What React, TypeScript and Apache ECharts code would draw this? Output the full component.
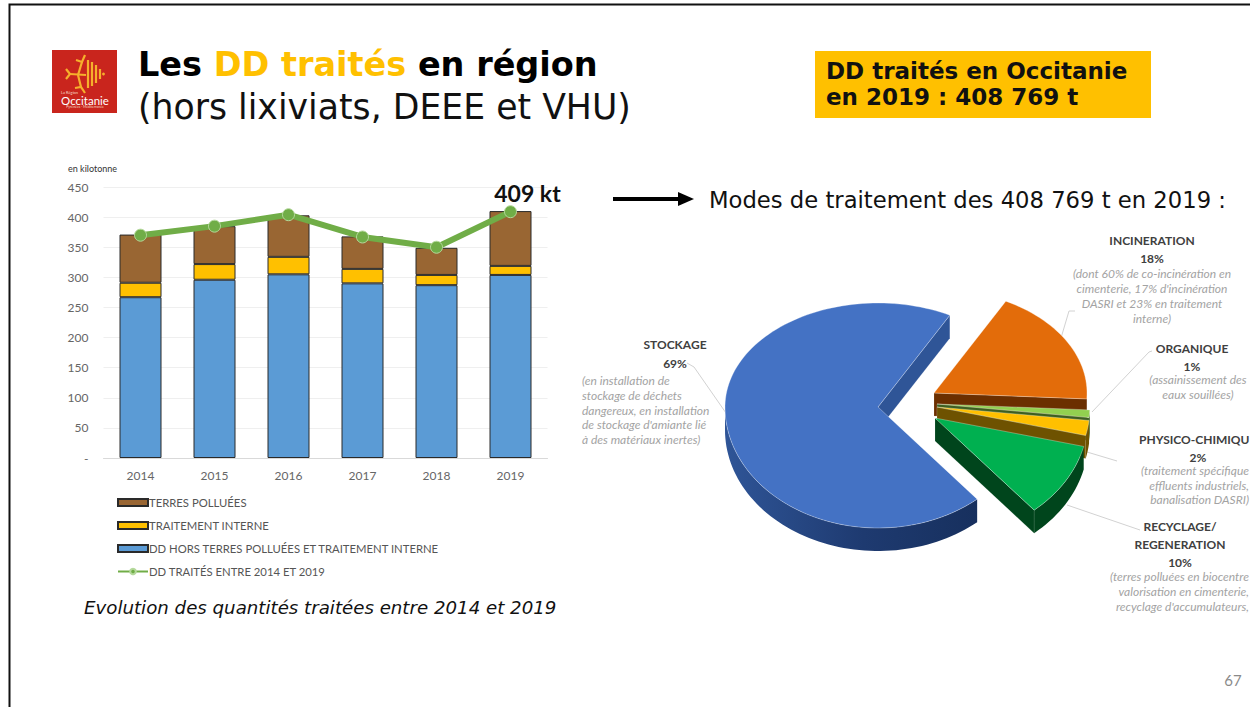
import React, { useEffect, useRef } from "react";
import * as echarts from "echarts";

const years = ["2014", "2015", "2016", "2017", "2018", "2019"];
const horsTerres = [267, 296, 305, 290, 287, 304];
const traitementInterne = [24, 26, 29, 24, 17, 15];
const terresPolluees = [80, 63, 69, 54, 45, 91];
const ddTraites = [370, 385, 404, 367, 350, 409];

const nameBrown = "TERRES POLLUÉES";
const nameYellow = "TRAITEMENT INTERNE";
const nameBlue = "DD HORS TERRES POLLUÉES ET TRAITEMENT INTERNE";
const nameLine = "DD TRAITÉS ENTRE 2014 ET 2019";

const pieNames = ["INCINERATION", "ORGANIQUE", "PHYSICO-CHIMIQUE", "RECYCLAGE/REGENERATION", "STOCKAGE"];
const pieShares = [18, 1, 2, 10, 69];

// 3D pie look (drawn by a custom series from pieShares)
const pieStyles = [
  { apex: [934, 393], top: "#e36c0a", side: "#6b2f00", end: "#6b2f00" },
  { apex: [937, 404], top: "#92d050", side: "#3d5f20", end: "#3d5f20" },
  { apex: [937, 407], top: "#ffc000", side: "#6e5200", end: "#6e5200" },
  { apex: [935, 418], top: "#00b050", side: "#00451c", end: "#00451c" },
  { apex: [878, 407], top: "#4472c4", side: "#27467f", end: "#2f5597" },
];
const RX = 153, RY_UP = 104, RY_DOWN = 121, DEPTH = 23, START_DEG = 28;

const FONT = "Lato";
const boldGrey = "#404040";
const italicGrey = "#a3a3a3";
type L = [string, number, number, "b" | "i", "center" | "left" | "right"];
const pieLabels: L[] = [
  ["INCINERATION", 1152, 240, "b", "center"],
  ["18%", 1152, 258, "b", "center"],
  ["(dont 60% de co-incinération en", 1152, 273, "i", "center"],
  ["cimenterie, 17% d'incinération", 1152, 288, "i", "center"],
  ["DASRI et 23% en traitement", 1152, 303, "i", "center"],
  ["interne)", 1152, 318, "i", "center"],
  ["ORGANIQUE", 1192, 348, "b", "center"],
  ["1%", 1192, 366, "b", "center"],
  ["(assainissement des", 1198, 379, "i", "center"],
  ["eaux souillées)", 1198, 394, "i", "center"],
  ["PHYSICO-CHIMIQU", 1139, 439, "b", "left"],
  ["2%", 1198, 457, "b", "center"],
  ["(traitement spécifique", 1249, 470, "i", "right"],
  ["effluents industriels,", 1249, 485, "i", "right"],
  ["banalisation DASRI)", 1249, 499, "i", "right"],
  ["RECYCLAGE/", 1180, 526, "b", "center"],
  ["REGENERATION", 1180, 544, "b", "center"],
  ["10%", 1180, 562, "b", "center"],
  ["(terres polluées en biocentre", 1249, 576, "i", "right"],
  ["valorisation en cimenterie,", 1249, 591, "i", "right"],
  ["recyclage d'accumulateurs,", 1249, 606, "i", "right"],
  ["STOCKAGE", 675, 344, "b", "center"],
  ["69%", 675, 363, "b", "center"],
  ["(en installation de", 582, 380, "i", "left"],
  ["stockage de déchets", 582, 395, "i", "left"],
  ["dangereux, en installation", 582, 410, "i", "left"],
  ["de stockage d'amiante lié", 582, 424, "i", "left"],
  ["à des matériaux inertes)", 582, 439, "i", "left"],
];
const leaders: number[][][] = [
  [[687, 363], [694, 367], [726, 413]],
  [[1075, 311], [1069, 311], [1061, 338]],
  [[1152, 351], [1149, 352], [1092, 412]],
  [[1117, 461], [1087, 452]],
  [[1140, 530], [1067, 505]],
];

const pt = (apex: number[], deg: number, dz = 0) => {
  const t = (deg * Math.PI) / 180;
  const c = Math.cos(t);
  return [apex[0] + RX * Math.sin(t), apex[1] - (c >= 0 ? RY_UP : RY_DOWN) * c + dz];
};
const arc = (apex: number[], a: number, b: number, dz = 0) => {
  const out: number[][] = [];
  const n = Math.max(2, Math.ceil((b - a) / 2));
  for (let i = 0; i <= n; i++) out.push(pt(apex, a + ((b - a) * i) / n, dz));
  return out;
};

function renderPie(params: any, api: any) {
  const i = params.dataIndex;
  const total = pieShares.reduce((s, v) => s + v, 0);
  const before = pieShares.slice(0, i).reduce((s, v) => s + v, 0);
  const a = START_DEG + (before / total) * 360;
  const b = a + (api.value(0) / total) * 360;
  const st = pieStyles[i];
  const children: any[] = [];
  // radial end wall
  const e = pt(st.apex, b);
  children.push({
    type: "polygon",
    shape: { points: [st.apex, e, [e[0], e[1] + DEPTH], [st.apex[0], st.apex[1] + DEPTH]] },
    style: { fill: st.end, stroke: "rgba(255,255,255,0.25)", lineWidth: 0.5 },
  });
  // outer wall, front part only
  const fa = Math.max(a, 90), fb = Math.min(b, 270);
  if (fb > fa) {
    const topArc = arc(st.apex, fa, fb);
    const botArc = arc(st.apex, fa, fb, DEPTH).reverse();
    children.push({
      type: "polygon",
      shape: { points: topArc.concat(botArc) },
      style: {
        fill:
          i === 4
            ? new echarts.graphic.LinearGradient(1, 0, 0, 0, [
                { offset: 0, color: "#17305e" },
                { offset: 0.45, color: "#1e3a70" },
                { offset: 1, color: "#2f5597" },
              ])
            : st.side,
      },
    });
  }
  // top face
  children.push({
    type: "polygon",
    shape: { points: [st.apex, ...arc(st.apex, a, b)] },
    style: { fill: st.top, stroke: "rgba(255,255,255,0.45)", lineWidth: 0.7 },
  });
  return { type: "group", children };
}

const crossStroke = { stroke: "#f6b02c", lineWidth: 2.2, fill: "none" };
const logo: any[] = [
  { type: "rect", shape: { x: 52, y: 50, width: 65, height: 63 }, style: { fill: "#c9251d" } },
  // simplified Occitan cross and stripes
  { type: "line", shape: { x1: 70, y1: 74, x2: 86, y2: 75 }, style: crossStroke },
  { type: "line", shape: { x1: 78, y1: 75, x2: 82, y2: 62 }, style: crossStroke },
  { type: "line", shape: { x1: 78, y1: 75, x2: 81, y2: 87 }, style: crossStroke },
  { type: "polyline", shape: { points: [[76, 60], [82, 62], [85, 55]] }, style: crossStroke },
  { type: "polyline", shape: { points: [[66, 69], [70, 74], [66, 79]] }, style: crossStroke },
  { type: "polyline", shape: { points: [[75, 88], [81, 87], [85, 93]] }, style: crossStroke },
  { type: "line", shape: { x1: 88, y1: 60, x2: 88, y2: 88 }, style: crossStroke },
  { type: "line", shape: { x1: 92, y1: 62, x2: 92, y2: 86 }, style: crossStroke },
  { type: "line", shape: { x1: 96, y1: 65, x2: 96, y2: 83 }, style: crossStroke },
  { type: "line", shape: { x1: 100, y1: 69, x2: 100, y2: 79 }, style: crossStroke },
  { type: "circle", shape: { cx: 103.5, cy: 74, r: 1.4 }, style: { fill: "#f6b02c" } },
  { type: "text", x: 61, y: 92, style: { text: "La Région", font: `4px ${FONT}`, fill: "#f6dcc8", align: "left", verticalAlign: "middle" } },
  { type: "text", x: 85, y: 100, style: { text: "Occitanie", font: `11.5px ${FONT}`, fill: "#ffffff", align: "center", verticalAlign: "middle" } },
  { type: "text", x: 85, y: 107, style: { text: "Pyrénées · Méditerranée", font: `3.5px ${FONT}`, fill: "#f6dcc8", align: "center", verticalAlign: "middle" } },
];

const DJ = "'DejaVu Sans'";
const graphics: any[] = [
  { type: "polyline", shape: { points: [[1250, 4.5], [9.5, 4.5], [9.5, 707]] }, style: { stroke: "#111", lineWidth: 2, fill: "none" } },
  ...logo,
  {
    type: "text", x: 138, y: 64,
    style: {
      text: "{a|Les }{b|DD traités}{a| en région}",
      align: "left", verticalAlign: "middle",
      rich: {
        a: { font: `bold 33.5px ${DJ}`, fill: "#000" },
        b: { font: `bold 33.5px ${DJ}`, fill: "#ffc000" },
      },
    },
  },
  { type: "text", x: 138, y: 107, style: { text: "(hors lixiviats, DEEE et VHU)", font: `34.7px ${DJ}`, fill: "#111", align: "left", verticalAlign: "middle" } },
  { type: "rect", shape: { x: 815, y: 51, width: 336, height: 67 }, style: { fill: "#ffc000" } },
  { type: "text", x: 826, y: 71, style: { text: "DD traités en Occitanie", font: `bold 23px ${DJ}`, fill: "#111", align: "left", verticalAlign: "middle" } },
  { type: "text", x: 826, y: 97, style: { text: "en 2019 : 408 769 t", font: `bold 23px ${DJ}`, fill: "#111", align: "left", verticalAlign: "middle" } },
  { type: "line", shape: { x1: 613, y1: 199, x2: 682, y2: 199 }, style: { stroke: "#000", lineWidth: 4 } },
  { type: "polygon", shape: { points: [[678, 192], [694, 199], [678, 206]] }, style: { fill: "#000" } },
  { type: "text", x: 709, y: 200, style: { text: "Modes de traitement des 408 769 t en 2019 :", font: `22.7px ${DJ}`, fill: "#111", align: "left", verticalAlign: "middle" } },
  { type: "text", x: 68, y: 168, style: { text: "en kilotonne", font: `9px ${FONT}`, fill: "#333", align: "left", verticalAlign: "middle" } },
  { type: "text", x: 84, y: 607, style: { text: "Evolution des quantités traitées entre 2014 et 2019", font: `italic 18.2px ${DJ}`, fill: "#111", align: "left", verticalAlign: "middle" } },
  { type: "text", x: 1233, y: 680, style: { text: "67", font: `15px ${FONT}`, fill: "#8a8a8a", align: "center", verticalAlign: "middle" } },
  ...leaders.map((points) => ({ type: "polyline", shape: { points }, style: { stroke: "#d2d2d2", lineWidth: 1, fill: "none" } })),
  ...pieLabels.map(([text, x, y, kind, align]) => ({
    type: "text", x, y,
    style: {
      text,
      font: kind === "b" ? `bold 12px ${FONT}` : `italic 12px ${FONT}`,
      fill: kind === "b" ? boldGrey : italicGrey,
      align, verticalAlign: "middle",
    },
  })),
];

const barStyle = (color: string) => ({ color, borderColor: "#2a2a2a", borderWidth: 1 });

export default function App() {
  const ref = useRef<HTMLDivElement>(null);
  useEffect(() => {
    document.body.style.margin = "0";
    const chart = echarts.init(ref.current!, null, { renderer: "svg" });
    chart.setOption({
      animation: false,
      backgroundColor: "#ffffff",
      grid: { left: 103.5, top: 187, width: 444, height: 271 },
      legend: {
        orient: "vertical", left: 117, top: 497, padding: 0, itemWidth: 30, itemHeight: 7, itemGap: 12,
        data: [
          { name: nameBrown, icon: "rect" },
          { name: nameYellow, icon: "rect" },
          { name: nameBlue, icon: "rect" },
          { name: nameLine },
        ],
        textStyle: { fontFamily: FONT, fontSize: 11.3, color: "#555", padding: [0, 0, 0, -4] },
      },
      xAxis: {
        type: "category", data: years,
        axisLine: { lineStyle: { color: "#d9d9d9" } }, axisTick: { show: false },
        axisLabel: { fontFamily: FONT, fontSize: 12, color: "#666", margin: 11 },
      },
      yAxis: {
        type: "value", min: 0, max: 450, interval: 50,
        axisLine: { show: false }, axisTick: { show: false },
        splitLine: { lineStyle: { color: "#efefef" } },
        axisLabel: { fontFamily: FONT, fontSize: 12, color: "#666", margin: 15, formatter: (v: number) => (v === 0 ? "-" : String(v)) },
      },
      graphic: graphics,
      series: [
        { name: nameBlue, type: "bar", stack: "a", barWidth: 42, data: horsTerres, itemStyle: barStyle("#5b9bd5") },
        { name: nameYellow, type: "bar", stack: "a", barWidth: 42, data: traitementInterne, itemStyle: barStyle("#ffc000") },
        { name: nameBrown, type: "bar", stack: "a", barWidth: 42, data: terresPolluees, itemStyle: barStyle("#996633") },
        {
          name: nameLine, type: "line", z: 5,
          data: ddTraites.map((value, i) =>
            i === ddTraites.length - 1
              ? { value, label: { show: true, position: "top", formatter: `${value} kt`, fontFamily: FONT, fontWeight: "bold", fontSize: 23, color: "#111", offset: [17, 4] } }
              : value
          ),
          symbol: "circle", symbolSize: 12,
          lineStyle: { color: "#70ad47", width: 6 },
          itemStyle: { color: "#70ad47", borderColor: "#b5d99c", borderWidth: 1 },
        },
        {
          name: "Modes de traitement", type: "custom", coordinateSystem: "none", z: 3,
          renderItem: renderPie,
          data: pieNames.map((name, i) => ({ name, value: [pieShares[i]] })),
        },
      ],
    });
    return () => chart.dispose();
  }, []);
  return <div ref={ref} style={{ position: "absolute", left: 0, top: 0, width: 1250, height: 707, overflow: "hidden" }} />;
}
